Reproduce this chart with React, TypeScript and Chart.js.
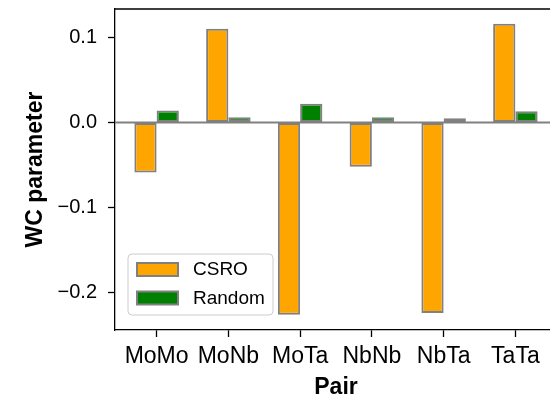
import React, { useEffect, useRef } from "react";
import { Chart, registerables } from "chart.js";

Chart.register(...registerables);

const categories = ["MoMo", "MoNb", "MoTa", "NbNb", "NbTa", "TaTa"];
const csroValues = [-0.059, 0.11, -0.226, -0.052, -0.224, 0.116];
const randomValues = [0.014, 0.006, 0.022, 0.006, 0.005, 0.013];
const seriesNames = ["CSRO", "Random"];
const yTickValues = [-0.2, -0.1, 0.0, 0.1];
const yMin = -0.2439;
const yMax = 0.1332;
const xMin = -0.58;
const xMax = 5.58;

const FONT = "'Liberation Sans', Arial, Helvetica, sans-serif";

export default function App() {
  const ref = useRef<HTMLCanvasElement | null>(null);

  useEffect(() => {
    const canvas = ref.current;
    if (!canvas) return;

    const zeroLine = {
      id: "zeroLine",
      afterDatasetsDraw(chart: any) {
        const { ctx, chartArea } = chart;
        const y = chart.scales.y.getPixelForValue(0);
        ctx.save();
        ctx.strokeStyle = "#808080";
        ctx.lineWidth = 2;
        ctx.beginPath();
        ctx.moveTo(chartArea.left, y);
        ctx.lineTo(chartArea.right, y);
        ctx.stroke();
        ctx.restore();
      },
    };

    const frame = {
      id: "frame",
      afterDraw(chart: any) {
        const { ctx, chartArea } = chart;
        ctx.save();
        ctx.strokeStyle = "#000";
        ctx.lineWidth = 1.3;
        ctx.beginPath();
        ctx.moveTo(chartArea.left, chartArea.top);
        ctx.lineTo(chartArea.right, chartArea.top);
        ctx.lineTo(chartArea.right, chartArea.bottom);
        ctx.stroke();
        ctx.restore();
      },
    };

    const legendBox = {
      id: "legendBox",
      afterDraw(chart: any) {
        const { ctx, chartArea } = chart;
        const bx = chartArea.left + 13;
        const by = chartArea.bottom - 76;
        const bw = 145;
        const bh = 61;
        const r = 4;
        ctx.save();
        ctx.beginPath();
        ctx.moveTo(bx + r, by);
        ctx.lineTo(bx + bw - r, by);
        ctx.arcTo(bx + bw, by, bx + bw, by + r, r);
        ctx.lineTo(bx + bw, by + bh - r);
        ctx.arcTo(bx + bw, by + bh, bx + bw - r, by + bh, r);
        ctx.lineTo(bx + r, by + bh);
        ctx.arcTo(bx, by + bh, bx, by + bh - r, r);
        ctx.lineTo(bx, by + r);
        ctx.arcTo(bx, by, bx + r, by, r);
        ctx.closePath();
        ctx.fillStyle = "rgba(255,255,255,0.8)";
        ctx.fill();
        ctx.strokeStyle = "#cccccc";
        ctx.lineWidth = 1;
        ctx.stroke();

        chart.data.datasets.forEach((ds: any, i: number) => {
          const sy = by + 9 + i * 28.5;
          ctx.fillStyle = ds.backgroundColor;
          ctx.fillRect(bx + 9, sy, 41, 13);
          ctx.strokeStyle = ds.borderColor;
          ctx.lineWidth = 2;
          ctx.strokeRect(bx + 9, sy, 41, 13);
          ctx.fillStyle = "#000";
          ctx.font = `19px ${FONT}`;
          ctx.textBaseline = "middle";
          ctx.textAlign = "left";
          ctx.fillText(ds.label, bx + 65, sy + 7);
        });
        ctx.restore();
      },
    };

    const chart = new Chart(canvas, {
      type: "bar",
      data: {
        datasets: [
          {
            label: seriesNames[0],
            data: categories.map((_, i) => ({ x: i, y: csroValues[i] })),
            backgroundColor: "#FFA500",
            borderColor: "#808080",
            borderWidth: 2,
            borderSkipped: false,
            categoryPercentage: 0.62,
            barPercentage: 1.0,
          },
          {
            label: seriesNames[1],
            data: categories.map((_, i) => ({ x: i, y: randomValues[i] })),
            backgroundColor: "#008000",
            borderColor: "#808080",
            borderWidth: 2,
            borderSkipped: false,
            categoryPercentage: 0.62,
            barPercentage: 1.0,
          },
        ],
      } as any,
      options: {
        responsive: false,
        animation: false,
        layout: { padding: { top: 9, right: 3, left: 0, bottom: 0 } },
        plugins: {
          legend: { display: false },
          tooltip: { enabled: false },
        },
        scales: {
          x: {
            type: "linear",
            bounds: "data",
            offset: false,
            min: xMin,
            max: xMax,
            afterBuildTicks: (s: any) => {
              s.ticks = categories.map((_, i) => ({ value: i }));
            },
            afterFit: (s: any) => {
              s.height = 71;
              s.paddingLeft = 0;
              s.paddingRight = 0;
              s.paddingTop = 0;
              s.paddingBottom = 0;
            },
            ticks: {
              callback: (v: any) => categories[Number(v)] ?? "",
              font: { family: FONT, size: 23 },
              color: "#000",
              padding: 6,
              maxRotation: 0,
              autoSkip: false,
            },
            grid: {
              offset: false,
              drawOnChartArea: false,
              drawTicks: true,
              tickLength: 7,
              tickColor: "#000",
              tickWidth: 1.3,
            },
            border: { display: true, color: "#000", width: 1.3 },
            title: {
              display: true,
              text: "Pair",
              font: { family: FONT, size: 23, weight: "bold" },
              color: "#000",
              padding: { top: 0, bottom: 0 },
            },
          },
          y: {
            type: "linear",
            min: yMin,
            max: yMax,
            afterBuildTicks: (s: any) => {
              s.ticks = yTickValues.map((v) => ({ value: v }));
            },
            afterFit: (s: any) => {
              s.width = 115;
              s.paddingTop = 0;
              s.paddingBottom = 0;
              s.paddingLeft = 0;
              s.paddingRight = 0;
            },
            ticks: {
              callback: (v: any) => Number(v).toFixed(1).replace("-", "\u2212"),
              font: { family: FONT, size: 20 },
              color: "#000",
              padding: 11,
            },
            grid: {
              drawOnChartArea: false,
              drawTicks: true,
              tickLength: 7,
              tickColor: "#000",
              tickWidth: 1.3,
            },
            border: { display: true, color: "#000", width: 1.3 },
            title: {
              display: true,
              text: "WC parameter",
              font: { family: FONT, size: 23, weight: "bold" },
              color: "#000",
              padding: { top: 22, bottom: 0 },
            },
          },
        },
      } as any,
      plugins: [zeroLine, frame, legendBox],
    });

    return () => chart.destroy();
  }, []);

  return (
    <div
      style={{
        position: "fixed",
        left: 0,
        top: 0,
        width: 550,
        height: 401,
        overflow: "hidden",
        background: "#fff",
      }}
    >
      <canvas ref={ref} width={560} height={401} style={{ display: "block" }} />
    </div>
  );
}
